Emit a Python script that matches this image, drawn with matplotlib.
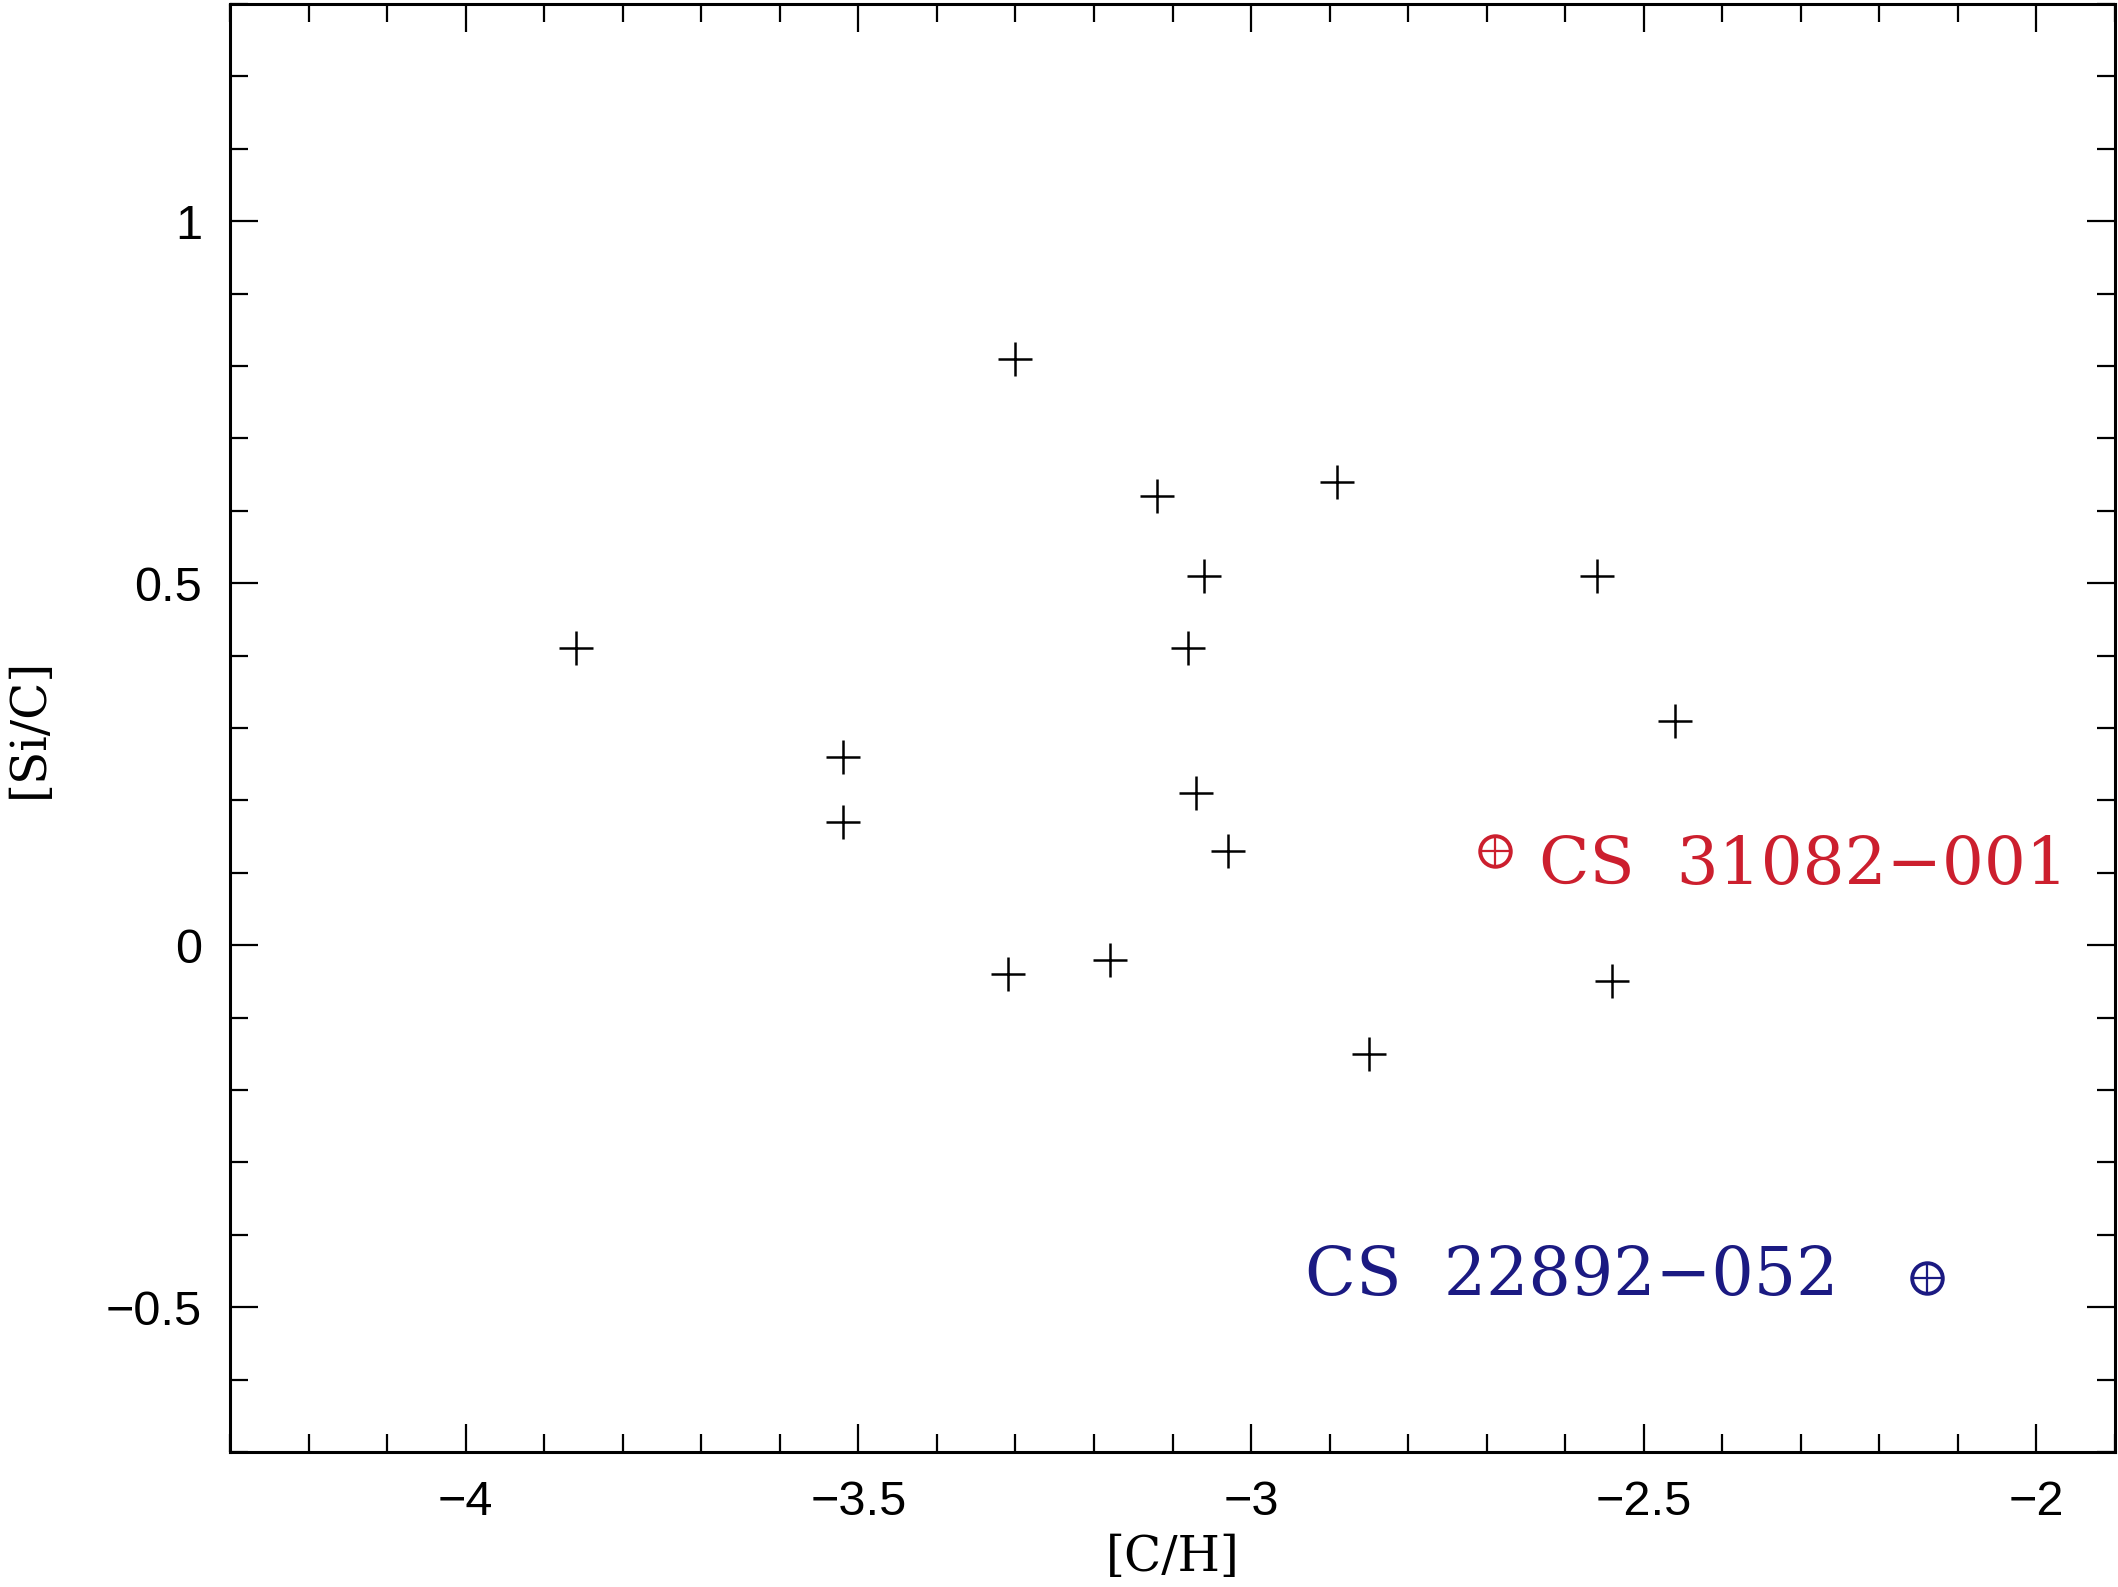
import matplotlib
matplotlib.use("Agg")
import matplotlib.pyplot as plt
from matplotlib.ticker import MultipleLocator

# [C/H] and [Si/C] values for the comparison sample
c_h = [-3.30, -3.12, -2.89, -3.06, -2.56, -3.86, -3.08, -2.46,
       -3.52, -3.52, -3.07, -3.03, -3.31, -3.18, -2.54, -2.85]
si_c = [0.81, 0.62, 0.64, 0.51, 0.51, 0.41, 0.41, 0.31,
        0.26, 0.17, 0.21, 0.13, -0.04, -0.02, -0.05, -0.15]

# highlighted stars
star_names = ["CS  31082\u2212001", "CS  22892\u2212052"]
star_ch = [-2.69, -2.14]
star_sic = [0.13, -0.46]
star_colors = ["#cc1f2e", "#1b1a82"]

xticks = [-4, -3.5, -3, -2.5, -2]
xticklabels = ["\u22124", "\u22123.5", "\u22123", "\u22122.5", "\u22122"]
yticks = [-0.5, 0, 0.5, 1]
yticklabels = ["\u22120.5", "0", "0.5", "1"]

fig = plt.figure(figsize=(21.18, 15.87), dpi=100)
ax = fig.add_axes([0.1086, 0.0851, 0.890, 0.9124])

ax.plot(c_h, si_c, linestyle='none', marker='+', color='black',
        markersize=24, markeredgewidth=1.8)

for x, y, col in zip(star_ch, star_sic, star_colors):
    ax.plot([x], [y], linestyle='none', marker='o', markerfacecolor='none',
            markeredgecolor=col, markersize=22, markeredgewidth=2.8)
    ax.plot([x], [y], linestyle='none', marker='+', color=col,
            markersize=20, markeredgewidth=1.6)

# labels next to the highlighted stars
ax.text(star_ch[0] + 0.057, star_sic[0] - 0.02, star_names[0],
        color=star_colors[0], fontsize=47.5, family='DejaVu Serif',
        ha='left', va='center')
ax.text(star_ch[1] - 0.112, star_sic[1] + 0.003, star_names[1],
        color=star_colors[1], fontsize=48, family='DejaVu Serif',
        ha='right', va='center')

ax.set_xlim(-4.3, -1.9)
ax.set_ylim(-0.7, 1.3)

ax.set_xticks(xticks)
ax.set_xticklabels(xticklabels)
ax.set_yticks(yticks)
ax.set_yticklabels(yticklabels)
ax.xaxis.set_minor_locator(MultipleLocator(0.1))
ax.yaxis.set_minor_locator(MultipleLocator(0.1))

ax.tick_params(which='both', direction='in', top=True, right=True,
               width=1.6, color='black')
ax.tick_params(which='major', length=20, pad=20, labelsize=35)
ax.tick_params(which='minor', length=13)
for lab in ax.get_xticklabels() + ax.get_yticklabels():
    lab.set_family('Liberation Sans')

for sp in ax.spines.values():
    sp.set_linewidth(2.2)

ax.set_xlabel('[C/H]', fontsize=35, family='DejaVu Serif')
ax.set_ylabel('[Si/C]', fontsize=35, family='DejaVu Serif')
ax.xaxis.set_label_coords(0.5, -0.057)
ax.yaxis.set_label_coords(-0.094, 0.5)

fig.savefig('out.png', dpi=100)
